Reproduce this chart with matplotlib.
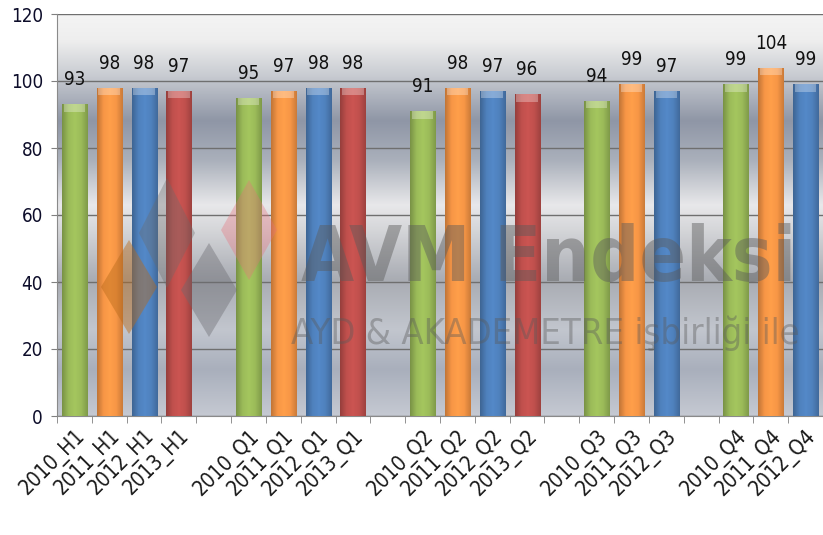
import numpy as np
import matplotlib.pyplot as plt
from matplotlib.colors import LinearSegmentedColormap, to_rgb
from matplotlib.patches import Polygon

# data: blank labels are the empty spacer categories of the original chart
labels = ['2010_H1', '2011_H1', '2012_H1', '2013_H1', '',
          '2010_Q1', '2011_Q1', '2012_Q1', '2013_Q1', '',
          '2010_Q2', '2011_Q2', '2012_Q2', '2013_Q2', '',
          '2010_Q3', '2011_Q3', '2012_Q3', '',
          '2010_Q4', '2011_Q4', '2012_Q4']
values = [93, 98, 98, 97, None,
          95, 97, 98, 98, None,
          91, 98, 97, 96, None,
          94, 99, 97, None,
          99, 104, 99]
year_colors = {'2010': '#9BBB59', '2011': '#F79646', '2012': '#4F81BD', '2013': '#C0504D'}
yticks = [0, 20, 40, 60, 80, 100, 120]

plt.rcParams['font.family'] = ['DejaVu Sans']
plt.rcParams['font.stretch'] = 'condensed'

W, H = 823, 535
fig = plt.figure(figsize=(W / 100, H / 100), dpi=100)
fig.patch.set_facecolor('white')
pos = [57 / W, 1 - 416 / H, 1 - 57 / W, 402 / H]

# background gradient (metallic look)
bg = fig.add_axes(pos, zorder=0)
stops = [(0.0, '#c5c9d2'), (0.114, '#a9afbc'), (0.214, '#c2c6ce'), (0.338, '#a9acb3'),
         (0.463, '#d5d6d9'), (0.525, '#e8e8ea'), (0.637, '#aab0bb'), (0.736, '#8f96a6'),
         (0.85, '#c9ccd2'), (0.935, '#eeeeee'), (1.0, '#f4f4f4')]
bg_cmap = LinearSegmentedColormap.from_list('bg', stops)
grad = np.linspace(0, 1, 256).reshape(-1, 1)
bg.imshow(grad, cmap=bg_cmap, aspect='auto', origin='lower', extent=[0, 1, 0, 1])
bg.set_axis_off()

ax = fig.add_axes(pos, zorder=1)
ax.patch.set_alpha(0)

x = np.arange(len(labels))
for i, (lab, v) in enumerate(zip(labels, values)):
    if v is None:
        continue
    c = year_colors[lab[:4]]
    bar = ax.bar(i, v, width=0.72, color=c, edgecolor='#5a5a5a', linewidth=0.6, zorder=3)[0]
    # horizontal shading inside each bar
    base = np.array(to_rgb(c))
    shade = LinearSegmentedColormap.from_list(
        'b', [base * 0.78, base, np.minimum(base * 1.06, 1), base, base * 0.82])
    im = ax.imshow(np.linspace(0, 1, 64).reshape(1, -1), cmap=shade, aspect='auto',
                   extent=[i - 0.36, i + 0.36, 0, v], zorder=3.1)
    im.set_clip_path(bar)
    # lighter cap at the top
    ax.bar(i, 2.2, bottom=v - 2.2, width=0.62, color='white', alpha=0.3,
           linewidth=0, zorder=3.2)
    ax.text(i, v + 4.5, str(v), ha='center', va='bottom', fontsize=13.5, color='#111111',
            zorder=6)

ax.set_xlim(-0.5, len(labels) - 0.6)
ax.set_ylim(0, 120)
ax.set_yticks(yticks)
ax.set_yticklabels([str(t) for t in yticks], fontsize=13.5, color='#0d0d2a')
ax.yaxis.grid(True, color='#6f6f6f', linewidth=1.0, zorder=1)
ax.set_axisbelow(True)

ax.set_xticks(x)
ax.set_xticklabels(labels, rotation=45, ha='right', rotation_mode='anchor', fontsize=15,
                   color='#1a1a1a')
ax.tick_params(axis='x', which='major', length=0, pad=7)
ax.set_xticks(np.arange(-0.5, len(labels), 1), minor=True)
ax.tick_params(axis='x', which='minor', length=5, color='#808080')
ax.tick_params(axis='y', length=4, color='#808080', pad=6)

for s in ['top', 'right']:
    ax.spines[s].set_visible(False)
ax.spines['left'].set_color('#8a8a8a')
ax.spines['bottom'].set_color('#8a8a8a')

# watermark
ax.text(0.318, 0.335, 'AVM Endeksi', transform=ax.transAxes, fontsize=55, fontweight='bold',
        color='#5a5a5a', alpha=0.45, ha='left', va='baseline', zorder=5)
ax.text(0.305, 0.18, 'AYD & AKADEMETRE işbirliği ile', transform=ax.transAxes, fontsize=26,
        color='#5a5a5a', alpha=0.4, ha='left', va='baseline', zorder=5)

# diamond logo
for cx, cy, hw, hh, col, a in [(167, 233, 28, 55, '#6a6a6a', 0.35),
                               (129, 287, 28, 47, '#b86a1a', 0.45),
                               (209, 290, 28, 47, '#6a6a70', 0.4),
                               (249, 230, 28, 50, '#e8707a', 0.35)]:
    pts = [(cx, cy - hh), (cx + hw, cy), (cx, cy + hh), (cx - hw, cy)]
    pts = [((px - 57) / (W - 57), (416 - py) / 402) for px, py in pts]
    ax.add_patch(Polygon(pts, closed=True, transform=ax.transAxes, facecolor=col,
                         edgecolor='none', alpha=a, zorder=4))

fig.savefig('out.png', dpi=100)
